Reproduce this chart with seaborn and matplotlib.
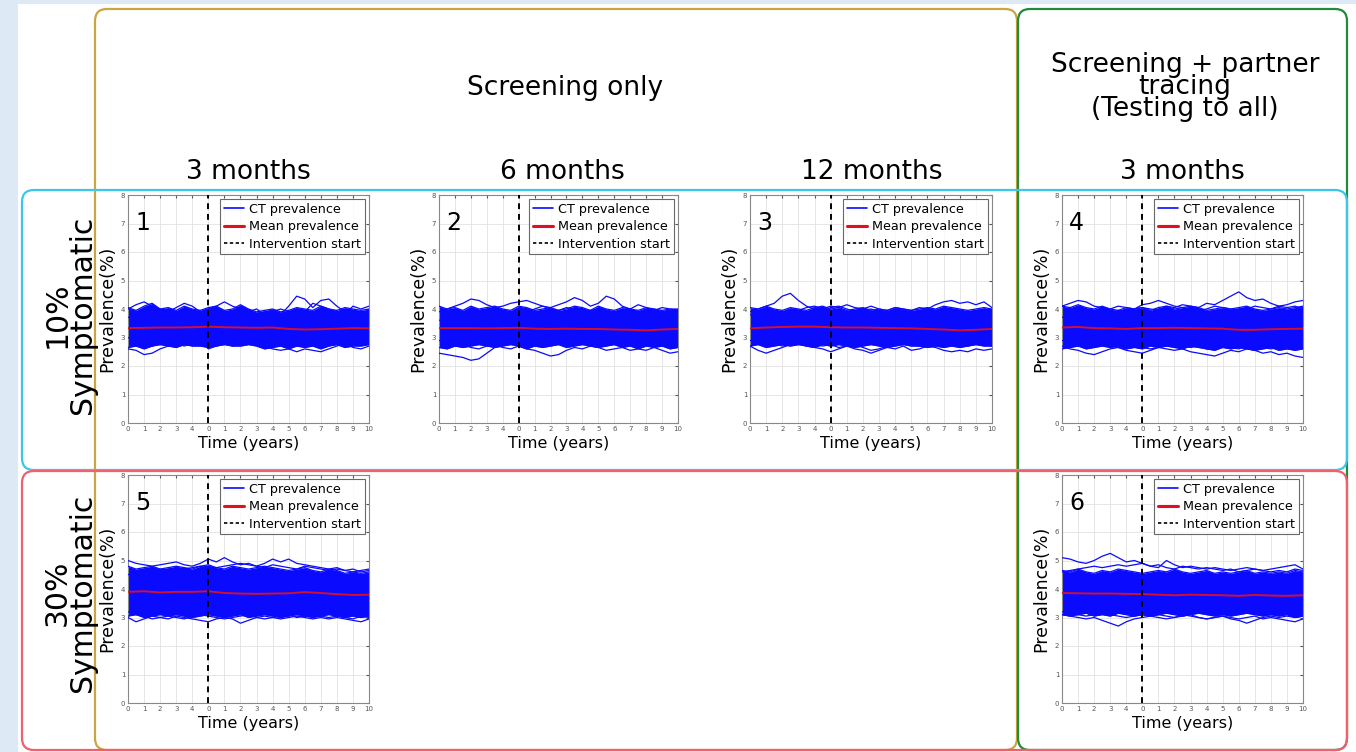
import numpy as np
import pandas as pd
import matplotlib
matplotlib.use("Agg")
import matplotlib.pyplot as plt
import seaborn as sns
from matplotlib.patches import FancyBboxPatch, Rectangle
from matplotlib.lines import Line2D

sns.set_style("white")
plt.rcParams['font.family'] = ['DejaVu Sans']
plt.rcParams['text.color'] = 'black'
plt.rcParams['axes.labelcolor'] = 'black'

# time axis: 5 years burn-in, then 10 years of intervention
t = np.arange(0, 15.5, 0.5)
t_mean = np.arange(0, 16)
xtick_labels = ['0', '1', '2', '3', '4', '0', '1', '2', '3', '4', '5', '6', '7', '8', '9', '10']

# ---- panel 1: 10% symptomatic, screening every 3 months
p1_hi = [4.05, 3.95, 4.10, 4.20, 4.00, 4.05, 3.95, 4.10, 4.00, 3.95, 4.05, 4.10, 3.95, 4.00, 4.15, 4.00,
         3.90, 3.95, 4.00, 3.90, 3.95, 4.05, 4.00, 3.95, 4.10, 4.00, 3.95, 4.05, 4.00, 3.95, 4.00]
p1_lo = [2.65, 2.70, 2.60, 2.70, 2.75, 2.70, 2.65, 2.75, 2.70, 2.70, 2.65, 2.70, 2.75, 2.70, 2.70, 2.75,
         2.70, 2.60, 2.65, 2.70, 2.60, 2.70, 2.65, 2.70, 2.60, 2.70, 2.75, 2.65, 2.70, 2.70, 2.75]
p1_runs = [
    [3.70, 3.80, 3.90, 4.00, 3.90, 3.80, 3.70, 3.80, 3.90, 3.80, 3.70, 3.60, 3.70, 3.80, 3.90, 3.80,
     3.70, 3.80, 3.90, 3.80, 4.10, 4.45, 4.35, 4.05, 4.30, 4.35, 4.10, 3.90, 3.80, 3.90, 3.80],
    [2.60, 2.55, 2.40, 2.45, 2.60, 2.70, 2.80, 2.90, 2.80, 2.90, 3.00, 2.90, 2.80, 2.90, 3.00, 2.90,
     2.80, 2.70, 2.80, 2.90, 2.80, 2.70, 2.80, 2.90, 3.00, 2.90, 2.80, 2.90, 2.80, 2.90, 2.80],
    [4.00, 4.15, 4.25, 4.10, 4.00, 3.90, 4.05, 4.20, 4.10, 3.90, 4.00, 4.10, 4.25, 4.10, 4.00, 3.90,
     4.00, 3.80, 3.90, 4.00, 3.90, 4.00, 3.90, 4.20, 4.10, 4.00, 3.90, 3.80, 4.10, 4.00, 4.10],
    [3.00, 2.90, 2.80, 2.70, 2.80, 2.90, 2.80, 2.70, 2.80, 2.90, 2.60, 2.70, 2.80, 2.70, 2.80, 2.90,
     2.80, 2.70, 2.60, 2.55, 2.60, 2.50, 2.60, 2.55, 2.50, 2.60, 2.70, 2.80, 2.65, 2.60, 2.70],
]
p1_mean = [3.33, 3.34, 3.35, 3.35, 3.36, 3.38, 3.36, 3.35, 3.34, 3.35, 3.30, 3.28, 3.29, 3.31, 3.33, 3.32]

# ---- panel 2: 10% symptomatic, every 6 months
p2_hi = [4.10, 4.00, 4.05, 3.95, 4.10, 4.00, 4.05, 4.10, 4.00, 3.95, 4.10, 4.05, 3.95, 4.00, 4.05, 3.95,
         4.00, 4.10, 4.05, 3.95, 4.10, 4.00, 3.95, 4.05, 4.00, 3.95, 4.05, 4.00, 3.95, 4.00, 4.00]
p2_lo = [2.65, 2.60, 2.70, 2.65, 2.70, 2.75, 2.70, 2.65, 2.70, 2.75, 2.70, 2.60, 2.70, 2.65, 2.70, 2.75,
         2.65, 2.70, 2.75, 2.70, 2.65, 2.70, 2.75, 2.65, 2.70, 2.60, 2.70, 2.65, 2.70, 2.60, 2.65]
p2_runs = [
    [2.45, 2.40, 2.35, 2.30, 2.20, 2.25, 2.45, 2.65, 2.80, 2.90, 3.00, 2.90, 2.85, 2.95, 3.05, 3.00,
     2.90, 2.85, 2.95, 3.00, 2.90, 2.85, 2.95, 3.05, 3.00, 2.90, 2.95, 3.00, 2.90, 2.85, 2.90],
    [3.90, 4.00, 4.10, 4.20, 4.35, 4.30, 4.15, 4.05, 4.10, 4.20, 4.25, 4.30, 4.20, 4.10, 4.00, 3.95,
     4.05, 4.00, 3.90, 3.95, 4.00, 3.90, 3.85, 3.95, 4.00, 3.90, 3.95, 4.00, 3.90, 3.95, 3.90],
    [3.60, 3.70, 3.80, 3.70, 3.60, 3.70, 3.80, 3.90, 3.80, 3.70, 3.80, 3.90, 4.00, 4.10, 4.05, 4.15,
     4.25, 4.40, 4.30, 4.10, 4.20, 4.45, 4.35, 4.10, 4.00, 4.15, 4.05, 3.95, 4.05, 4.00, 3.95],
    [2.90, 2.80, 2.70, 2.75, 2.65, 2.60, 2.70, 2.75, 2.65, 2.60, 2.70, 2.60, 2.55, 2.45, 2.35, 2.40,
     2.55, 2.65, 2.60, 2.70, 2.65, 2.55, 2.60, 2.65, 2.55, 2.60, 2.55, 2.65, 2.55, 2.45, 2.50],
]
p2_mean = [3.33, 3.33, 3.33, 3.32, 3.33, 3.34, 3.31, 3.30, 3.31, 3.30, 3.30, 3.28, 3.27, 3.25, 3.28, 3.30]

# ---- panel 3: 10% symptomatic, every 12 months
p3_hi = [4.05, 4.00, 4.10, 4.00, 3.95, 4.05, 4.00, 3.95, 4.05, 4.10, 4.00, 4.05, 3.95, 4.00, 4.05, 3.95,
         4.00, 3.95, 4.05, 4.00, 3.95, 4.00, 4.05, 4.00, 4.10, 4.05, 4.00, 3.95, 4.00, 4.05, 4.00]
p3_lo = [2.70, 2.75, 2.65, 2.70, 2.75, 2.70, 2.75, 2.70, 2.65, 2.75, 2.70, 2.75, 2.70, 2.65, 2.70, 2.75,
         2.70, 2.65, 2.70, 2.75, 2.70, 2.70, 2.65, 2.70, 2.65, 2.70, 2.65, 2.70, 2.75, 2.70, 2.70]
p3_runs = [
    [3.90, 4.00, 4.10, 4.20, 4.45, 4.55, 4.30, 4.10, 4.00, 3.90, 4.05, 4.10, 4.00, 3.90, 3.95, 4.00,
     3.90, 3.80, 3.90, 3.95, 3.85, 3.90, 3.95, 3.90, 4.00, 3.95, 3.90, 3.85, 3.90, 3.95, 3.90],
    [2.70, 2.55, 2.45, 2.55, 2.65, 2.75, 2.80, 2.70, 2.65, 2.60, 2.50, 2.60, 2.70, 2.75, 2.65, 2.55,
     2.60, 2.70, 2.75, 2.80, 2.75, 2.70, 2.80, 2.75, 2.70, 2.80, 2.75, 2.70, 2.80, 2.75, 2.70],
    [3.80, 3.70, 3.80, 3.90, 3.80, 3.85, 3.95, 4.05, 4.10, 4.00, 4.10, 4.05, 4.15, 4.05, 4.00, 4.10,
     4.00, 3.95, 4.05, 4.00, 3.95, 4.05, 4.00, 4.15, 4.25, 4.30, 4.20, 4.25, 4.15, 4.25, 4.05],
    [2.90, 2.85, 2.75, 2.80, 2.70, 2.75, 2.80, 2.85, 2.75, 2.70, 2.75, 2.65, 2.70, 2.60, 2.55, 2.45,
     2.55, 2.65, 2.60, 2.70, 2.55, 2.60, 2.70, 2.65, 2.55, 2.50, 2.55, 2.50, 2.60, 2.55, 2.60],
]
p3_mean = [3.32, 3.35, 3.37, 3.38, 3.38, 3.36, 3.35, 3.35, 3.34, 3.33, 3.32, 3.30, 3.28, 3.25, 3.27, 3.30]

# ---- panel 4: 10% symptomatic, screening + partner tracing, 3 months
p4_hi = [4.10, 4.05, 4.15, 4.05, 4.00, 4.10, 4.00, 3.95, 4.05, 4.00, 4.05, 3.95, 4.05, 4.10, 4.00, 4.05,
         4.10, 4.05, 3.95, 4.00, 4.05, 4.00, 4.05, 4.10, 4.00, 3.95, 4.00, 4.05, 4.00, 4.05, 4.10]
p4_lo = [2.60, 2.65, 2.70, 2.60, 2.65, 2.70, 2.65, 2.70, 2.60, 2.65, 2.60, 2.70, 2.65, 2.70, 2.65, 2.60,
         2.70, 2.65, 2.60, 2.55, 2.65, 2.60, 2.65, 2.60, 2.55, 2.60, 2.65, 2.55, 2.60, 2.55, 2.60]
p4_runs = [
    [3.70, 3.80, 3.75, 3.85, 3.90, 3.80, 3.85, 3.95, 3.90, 4.00, 4.05, 4.00, 3.95, 4.10, 4.05, 4.15,
     4.10, 4.05, 4.20, 4.15, 4.30, 4.45, 4.60, 4.40, 4.30, 4.35, 4.20, 4.10, 4.05, 4.10, 4.00],
    [4.10, 4.20, 4.30, 4.25, 4.10, 4.05, 4.00, 4.10, 4.05, 4.00, 4.15, 4.20, 4.30, 4.20, 4.10, 4.05,
     4.00, 3.95, 4.00, 4.10, 4.05, 4.00, 3.90, 4.00, 4.10, 4.05, 4.00, 4.10, 4.15, 4.25, 4.30],
    [2.90, 2.80, 2.75, 2.70, 2.75, 2.80, 2.70, 2.65, 2.60, 2.70, 2.65, 2.60, 2.65, 2.60, 2.55, 2.60,
     2.50, 2.45, 2.40, 2.35, 2.45, 2.55, 2.50, 2.60, 2.55, 2.45, 2.50, 2.40, 2.45, 2.35, 2.30],
    [2.70, 2.60, 2.55, 2.45, 2.40, 2.50, 2.60, 2.65, 2.55, 2.50, 2.45, 2.55, 2.65, 2.70, 2.75, 2.70,
     2.65, 2.70, 2.60, 2.65, 2.70, 2.65, 2.60, 2.70, 2.75, 2.65, 2.60, 2.65, 2.70, 2.60, 2.65],
]
p4_mean = [3.35, 3.37, 3.33, 3.32, 3.30, 3.33, 3.33, 3.34, 3.33, 3.32, 3.31, 3.27, 3.27, 3.29, 3.30, 3.31]

# ---- panel 5: 30% symptomatic, every 3 months
p5_hi = [4.80, 4.70, 4.75, 4.80, 4.70, 4.75, 4.80, 4.75, 4.70, 4.80, 4.85, 4.75, 4.70, 4.80, 4.75, 4.70,
         4.75, 4.80, 4.75, 4.70, 4.65, 4.70, 4.75, 4.65, 4.60, 4.70, 4.65, 4.55, 4.60, 4.55, 4.60]
p5_lo = [3.05, 3.10, 3.00, 3.05, 3.10, 3.05, 3.10, 3.05, 3.00, 3.05, 3.10, 3.05, 3.00, 3.05, 3.10, 3.00,
         3.05, 3.10, 3.05, 3.00, 3.05, 3.10, 3.05, 3.00, 3.05, 3.10, 3.05, 3.00, 3.05, 3.00, 3.05]
p5_runs = [
    [5.00, 4.90, 4.85, 4.80, 4.85, 4.90, 4.95, 4.85, 4.80, 4.90, 5.05, 4.95, 5.10, 4.95, 4.85, 4.90,
     4.80, 4.75, 4.85, 4.80, 4.75, 4.70, 4.80, 4.75, 4.70, 4.65, 4.70, 4.65, 4.60, 4.65, 4.70],
    [4.50, 4.60, 4.55, 4.65, 4.70, 4.60, 4.65, 4.70, 4.75, 4.80, 4.70, 4.75, 4.80, 4.85, 4.90, 4.85,
     4.80, 4.90, 5.05, 4.95, 5.05, 4.90, 4.85, 4.80, 4.75, 4.70, 4.75, 4.65, 4.70, 4.60, 4.65],
    [3.00, 2.85, 2.95, 3.05, 3.00, 2.95, 3.05, 3.00, 2.95, 2.90, 2.85, 2.95, 3.00, 2.95, 2.80, 2.90,
     3.00, 3.05, 3.00, 3.05, 3.10, 3.00, 3.05, 3.10, 3.05, 3.00, 3.05, 3.00, 2.95, 3.05, 3.00],
    [3.20, 3.10, 3.05, 2.95, 3.00, 3.05, 3.00, 2.95, 3.05, 3.10, 3.05, 3.00, 2.95, 3.00, 3.05, 3.10,
     3.00, 2.95, 3.00, 2.95, 3.00, 3.05, 3.00, 2.95, 3.00, 2.95, 3.00, 2.95, 2.90, 2.85, 2.95],
]
p5_mean = [3.90, 3.92, 3.88, 3.90, 3.90, 3.92, 3.86, 3.84, 3.83, 3.84, 3.85, 3.89, 3.86, 3.82, 3.79, 3.80]

# ---- panel 6: 30% symptomatic, screening + partner tracing, 3 months
p6_hi = [4.65, 4.60, 4.70, 4.60, 4.55, 4.65, 4.60, 4.70, 4.65, 4.60, 4.55, 4.60, 4.65, 4.60, 4.70, 4.60,
         4.55, 4.60, 4.65, 4.55, 4.60, 4.55, 4.60, 4.65, 4.55, 4.60, 4.55, 4.60, 4.55, 4.65, 4.60]
p6_lo = [3.10, 3.05, 3.10, 3.15, 3.05, 3.10, 3.05, 3.15, 3.10, 3.05, 3.10, 3.05, 3.10, 3.15, 3.10, 3.05,
         3.10, 3.15, 3.10, 3.05, 3.10, 3.05, 3.10, 3.15, 3.10, 3.05, 3.10, 3.05, 3.10, 3.00, 3.05]
p6_runs = [
    [5.10, 5.05, 4.95, 4.90, 5.00, 5.15, 5.25, 5.10, 4.95, 5.00, 4.90, 4.80, 4.85, 4.75, 4.70, 4.80,
     4.75, 4.70, 4.75, 4.70, 4.65, 4.70, 4.60, 4.65, 4.70, 4.65, 4.60, 4.65, 4.60, 4.70, 4.65],
    [4.60, 4.65, 4.70, 4.75, 4.80, 4.75, 4.80, 4.85, 4.80, 4.85, 4.90, 4.80, 4.75, 5.00, 4.85, 4.75,
     4.80, 4.75, 4.70, 4.75, 4.70, 4.65, 4.70, 4.75, 4.70, 4.65, 4.70, 4.75, 4.80, 4.85, 4.70],
    [3.10, 3.05, 3.00, 2.95, 3.00, 2.90, 2.80, 2.70, 2.85, 2.95, 3.00, 3.05, 3.10, 3.05, 3.00, 3.10,
     3.05, 3.00, 2.95, 3.00, 3.05, 2.95, 2.90, 2.80, 2.90, 3.00, 3.05, 3.00, 3.05, 3.00, 3.05],
    [3.20, 3.15, 3.10, 3.05, 3.10, 3.15, 3.10, 3.05, 3.00, 3.05, 3.10, 3.05, 3.00, 2.95, 3.00, 3.05,
     3.10, 3.00, 2.95, 3.00, 3.05, 3.00, 2.95, 3.00, 3.05, 2.95, 3.00, 2.95, 2.90, 2.85, 2.95],
]
p6_mean = [3.86, 3.85, 3.84, 3.84, 3.83, 3.82, 3.80, 3.78, 3.80, 3.79, 3.78, 3.76, 3.79, 3.77, 3.76, 3.78]

W, H = 1356, 752
BLUE = '#0a0aff'


def px_rect(x0, x1, y0, y1):
    return [x0 / W, 1 - y1 / H, (x1 - x0) / W, (y1 - y0) / H]


def draw_panel(ax, num, hi, lo, runs, mean):
    ax.fill_between(t, lo, hi, color=BLUE, lw=0, zorder=2)
    runs_df = pd.DataFrame({
        't': np.tile(t, len(runs) + 2),
        'prev': np.concatenate(runs + [hi, lo]),
        'run': np.repeat(np.arange(len(runs) + 2), len(t)),
    })
    sns.lineplot(data=runs_df, x='t', y='prev', units='run', estimator=None,
                 color=BLUE, lw=0.9, ax=ax, legend=False, zorder=3)
    sns.lineplot(x=t_mean, y=mean, color='#d0102c', lw=1.4, ax=ax, zorder=4)
    ax.axvline(5, color='black', ls='--', lw=1.4, dashes=(3, 2.5), zorder=5)

    ax.set_xlim(0, 15)
    ax.set_ylim(0, 8)
    ax.set_xticks(range(16))
    ax.set_xticklabels(xtick_labels)
    ax.set_yticks(range(9))
    ax.tick_params(labelsize=5, colors='#555555', length=2, direction='in',
                   top=True, right=True, pad=2)
    ax.grid(True, color='#e2e2e2', lw=0.6)
    for s in ax.spines.values():
        s.set_color('#888888')
        s.set_linewidth(0.8)
    ax.set_xlabel('Time (years)', fontsize=11.5, labelpad=3)
    ax.set_ylabel('Prevalence(%)', fontsize=12.5, labelpad=3)
    ax.text(0.06, 0.875, str(num), transform=ax.transAxes, fontsize=17,
            ha='center', va='center')

    handles = [Line2D([], [], color=BLUE, lw=1.2),
               Line2D([], [], color='#e01020', lw=2.2),
               Line2D([], [], color='black', lw=1.2, ls='--', dashes=(2, 1.5))]
    leg = ax.legend(handles, ['CT prevalence', 'Mean prevalence', 'Intervention start'],
                    loc='upper right', fontsize=9.2, frameon=True, fancybox=False,
                    borderpad=0.3, labelspacing=0.35, handlelength=1.6,
                    handletextpad=0.4, borderaxespad=0.3)
    leg.get_frame().set_edgecolor('#444444')
    leg.get_frame().set_linewidth(0.8)


fig = plt.figure(figsize=(13.56, 7.52), dpi=100)
fig.patch.set_facecolor('white')

panels = [
    (1, (128, 369, 195, 423), p1_hi, p1_lo, p1_runs, p1_mean),
    (2, (439, 678, 195, 423), p2_hi, p2_lo, p2_runs, p2_mean),
    (3, (750, 992, 195, 423), p3_hi, p3_lo, p3_runs, p3_mean),
    (4, (1062, 1303, 195, 423), p4_hi, p4_lo, p4_runs, p4_mean),
    (5, (128, 369, 475, 703), p5_hi, p5_lo, p5_runs, p5_mean),
    (6, (1062, 1303, 475, 703), p6_hi, p6_lo, p6_runs, p6_mean),
]
for num, (x0, x1, y0, y1), hi, lo, runs, mean in panels:
    ax = fig.add_axes(px_rect(x0, x1, y0, y1))
    draw_panel(ax, num, hi, lo, runs, mean)

# overlay in pixel coordinates for the frames and headers
ov = fig.add_axes([0, 0, 1, 1], zorder=10)
ov.set_xlim(0, W)
ov.set_ylim(H, 0)
ov.axis('off')
ov.patch.set_alpha(0)

ov.add_patch(Rectangle((0, 0), 18, H, color='#dde9f5', lw=0))
ov.add_patch(Rectangle((0, 0), W, 4, color='#dde9f5', lw=0))

boxes = [
    ((95, 9), 922, 741, '#c9a640'),
    ((1018, 9), 329, 741, '#1f8b3b'),
    ((22, 190), 1325, 280, '#3cc6e8'),
    ((22, 471), 1325, 279, '#f0606e'),
]
for (bx, by), bw, bh, col in boxes:
    ov.add_patch(FancyBboxPatch((bx, by), bw, bh,
                                boxstyle='round,pad=0,rounding_size=12',
                                fill=False, ec=col, lw=1.6))

ov.text(565, 88, 'Screening only', fontsize=19, ha='center', va='center')
ov.text(1185, 87, 'Screening + partner\ntracing\n(Testing to all)', fontsize=19,
        ha='center', va='center', linespacing=0.82)
for x, lab in [(248, '3 months'), (562, '6 months'), (872, '12 months'), (1182, '3 months')]:
    ov.text(x, 172, lab, fontsize=19, ha='center', va='center')
for y, lab in [(315, '10%\nSymptomatic'), (593, '30%\nSymptomatic')]:
    ov.text(70, y, lab, fontsize=21.5, ha='center', va='center', rotation=90,
            linespacing=0.85)

fig.savefig('out.png', dpi=100, facecolor='white')
